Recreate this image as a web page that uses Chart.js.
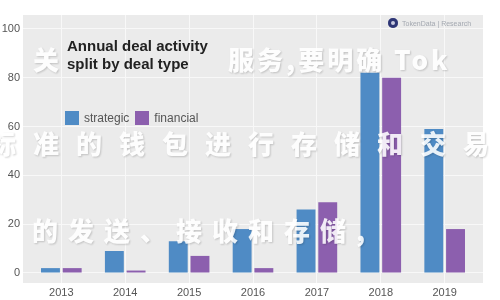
<!DOCTYPE html>
<html>
<head>
<meta charset="utf-8">
<script src="https://cdn.jsdelivr.net/npm/chart.js@4.4.1/dist/chart.umd.min.js"></script>
<style>
  html, body { margin: 0; padding: 0; background: #fff; }
  #wrap { position: relative; width: 500px; height: 300px; overflow: hidden; font-family: "Liberation Sans", Arial, sans-serif; }
  #c { position: absolute; left: 0; top: 0; }
  .ttl { position: absolute; left: 67px; font-size: 15px; font-weight: bold; color: #222; line-height: 1; }
  #legend { position: absolute; left: 65px; top: 111px; display: flex; align-items: center; font-size: 12px; color: #555; }
  #legend .sw { width: 14px; height: 14px; display: inline-block; margin-right: 5px; }
  #legend .it { display: flex; align-items: center; margin-right: 6px; }
  #logo { position: absolute; left: 388px; top: 18px; display: flex; align-items: center; font-size: 7px; color: #a3a8b0; }
  #logo .dot { width: 10px; height: 10px; border-radius: 50%; background: #2e3675; margin-right: 4px; box-shadow: inset 0 0 0 3px #2e3675, inset 0 0 0 5px #c9cbe0; }
  .wm { position: absolute; font-family: "Noto Sans CJK SC", sans-serif; font-weight: 900; font-size: 26px; line-height: 1; color: #fff; opacity: 0.88; white-space: nowrap;
        text-shadow: 1px 1px 2px rgba(0,0,0,0.2); }
</style>
</head>
<body>
<div id="wrap">
  <canvas id="c" width="500" height="300"></canvas>
  <div class="ttl" style="top:38px">Annual deal activity</div>
  <div class="ttl" style="top:56px">split by deal type</div>
  <div id="legend"></div>
  <div id="logo"><span class="dot"></span>TokenData | Research</div>
  <div class="wm" style="left:33px; top:46px;">关</div>
  <div class="wm" style="left:228px; top:46px; letter-spacing:3px;">服务,要明确 Tok</div>
  <div class="wm" style="left:-10px; top:130px; letter-spacing:17px;">标准的钱包进行存储和交易</div>
  <div class="wm" style="left:32px; top:217px; letter-spacing:10px;">的发送、接收和存储,</div>
</div>
<script>
/* Annual deal activity: strategic vs financial deals per year. */
const years = [2013, 2014, 2015, 2016, 2017, 2018, 2019];
const strategic = [2, 9, 13, 18, 26, 82, 59];
const financial = [2, 1, 7, 2, 29, 80, 18];
const yTicks = [0, 20, 40, 60, 80, 100];
const seriesNames = ["strategic", "financial"];
const seriesColors = ["#4f8bc5", "#8c5fae"];

(function () {
  const pts = (vals) => years.map((y, i) => ({ x: y, y: vals[i] }));
  const panelBg = {
    id: "panelBg",
    beforeDraw(chart) {
      const a = chart.chartArea, ctx = chart.ctx;
      ctx.save(); ctx.fillStyle = "#ebebeb"; ctx.fillRect(a.left, a.top, a.right - a.left, a.bottom - a.top); ctx.restore();
    },
  };
  const tickFont = { family: "'Liberation Sans', Arial, sans-serif", size: 11 };

  new Chart(document.getElementById("c"), {
    type: "bar",
    data: {
      datasets: [strategic, financial].map((v, i) => ({
        label: seriesNames[i], data: pts(v), backgroundColor: seriesColors[i],
        categoryPercentage: 0.68, barPercentage: 0.87,
      })),
    },
    options: {
      responsive: false, animation: false,
      layout: { padding: { top: 15, right: 17, left: 0, bottom: 0 } },
      plugins: { legend: { display: false }, tooltip: { enabled: false } },
      scales: {
        x: { type: "linear", min: 2012.4, max: 2019.6, offset: false,
          afterBuildTicks: (s) => { s.ticks = years.map((v) => ({ value: v })); },
          afterFit: (s) => { s.height = 17; },
          grid: { color: "#f8f8f8", lineWidth: 1, drawTicks: false, offset: false },
          border: { display: false },
          ticks: { color: "#555", font: tickFont, padding: 3, maxRotation: 0, callback: (v) => String(v) } },
        y: { min: -4.1, max: 105.7,
          afterBuildTicks: (s) => { s.ticks = yTicks.map((v) => ({ value: v })); },
          afterFit: (s) => { s.width = 23; },
          grid: { color: "#f8f8f8", lineWidth: 1, drawTicks: false },
          border: { display: false },
          ticks: { color: "#555", font: tickFont, padding: 3 } },
      },
    },
    plugins: [panelBg],
  });

  document.getElementById("legend").innerHTML = seriesNames.map((n, i) =>
    `<span class="it"><span class="sw" style="background:${seriesColors[i]}"></span>${n}</span>`).join("");
})();
</script>
</body>
</html>
